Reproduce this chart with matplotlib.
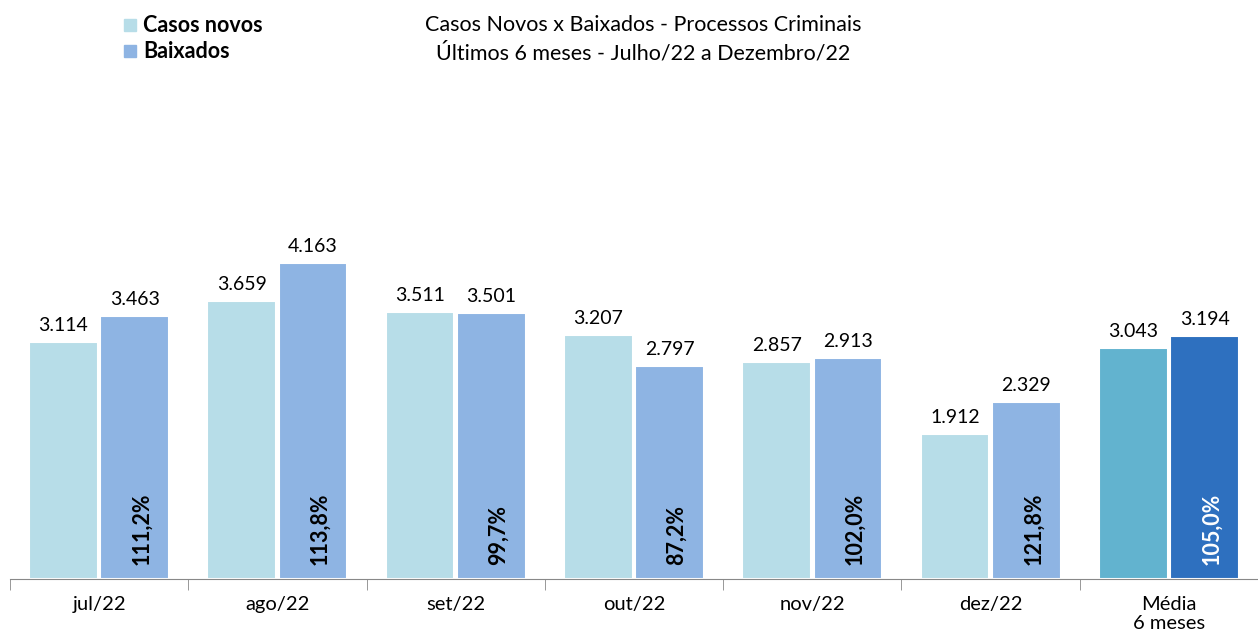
import matplotlib
matplotlib.use("Agg")
import matplotlib.pyplot as plt
import numpy as np

categories = ["jul/22", "ago/22", "set/22", "out/22", "nov/22", "dez/22", "Média\n6 meses"]
casos_novos = [3114, 3659, 3511, 3207, 2857, 1912, 3043]
baixados = [3463, 4163, 3501, 2797, 2913, 2329, 3194]
casos_labels = ["3.114", "3.659", "3.511", "3.207", "2.857", "1.912", "3.043"]
baixados_labels = ["3.463", "4.163", "3.501", "2.797", "2.913", "2.329", "3.194"]
pct_labels = ["111,2%", "113,8%", "99,7%", "87,2%", "102,0%", "121,8%", "105,0%"]

plt.rcParams['font.family'] = ['Lato', 'DejaVu Sans']

c_casos = ["#B7DDE8"] * 6 + ["#62B3CF"]
c_baix = ["#8EB4E3"] * 6 + ["#2E70BF"]
pct_colors = ["black"] * 6 + ["white"]

fig = plt.figure(figsize=(12.58, 6.35), dpi=100)
H = 635.0
ax = fig.add_axes([10 / 1258, 56 / H, 1 - 10 / 1258, 380 / H])

x = np.arange(len(categories))
w = 0.385
ax.bar(x - 0.2, casos_novos, w, color=c_casos, edgecolor="white", linewidth=1.5)
ax.bar(x + 0.2, baixados, w, color=c_baix, edgecolor="white", linewidth=1.5)

for i in range(len(categories)):
    ax.text(x[i] - 0.2, casos_novos[i] + 105, casos_labels[i], ha="center", va="bottom", fontsize=14)
    ax.text(x[i] + 0.2, baixados[i] + 105, baixados_labels[i], ha="center", va="bottom", fontsize=14)
    ax.text(x[i] + 0.24, 185, pct_labels[i], rotation=90, ha="center", va="bottom",
            fontsize=15.5, fontweight="bold", color=pct_colors[i])

ax.set_xlim(-0.5, len(categories) - 0.5)
ax.set_ylim(0, 5000)
ax.set_yticks([])
for s in ["top", "right", "left"]:
    ax.spines[s].set_visible(False)
ax.spines["bottom"].set_color("#888888")
ax.set_xticks(x)
ax.set_xticklabels(categories, fontsize=14.5, linespacing=1.15)
ax.tick_params(axis="x", which="major", length=0, pad=12)
ax.set_xticks(np.arange(len(categories) + 1) - 0.5, minor=True)
ax.tick_params(axis="x", which="minor", length=8, color="#888888")

# legend
fig.patches.append(plt.Rectangle((124 / 1258, 1 - 31 / H), 12 / 1258, 12 / H,
                                 transform=fig.transFigure, color="#B7DDE8", figure=fig))
fig.patches.append(plt.Rectangle((124 / 1258, 1 - 57 / H), 12 / 1258, 12 / H,
                                 transform=fig.transFigure, color="#8EB4E3", figure=fig))
fig.text(143 / 1258, 1 - 25 / H, "Casos novos", fontsize=15.5, fontweight="bold", va="center")
fig.text(143 / 1258, 1 - 51 / H, "Baixados", fontsize=15.5, fontweight="bold", va="center")

fig.text(643 / 1258, 1 - 25 / H, "Casos Novos x Baixados - Processos Criminais", fontsize=15.5,
         ha="center", va="center")
fig.text(643 / 1258, 1 - 53 / H, "Últimos 6 meses - Julho/22 a Dezembro/22", fontsize=15.5,
         ha="center", va="center")

fig.savefig("out.png", dpi=100)
